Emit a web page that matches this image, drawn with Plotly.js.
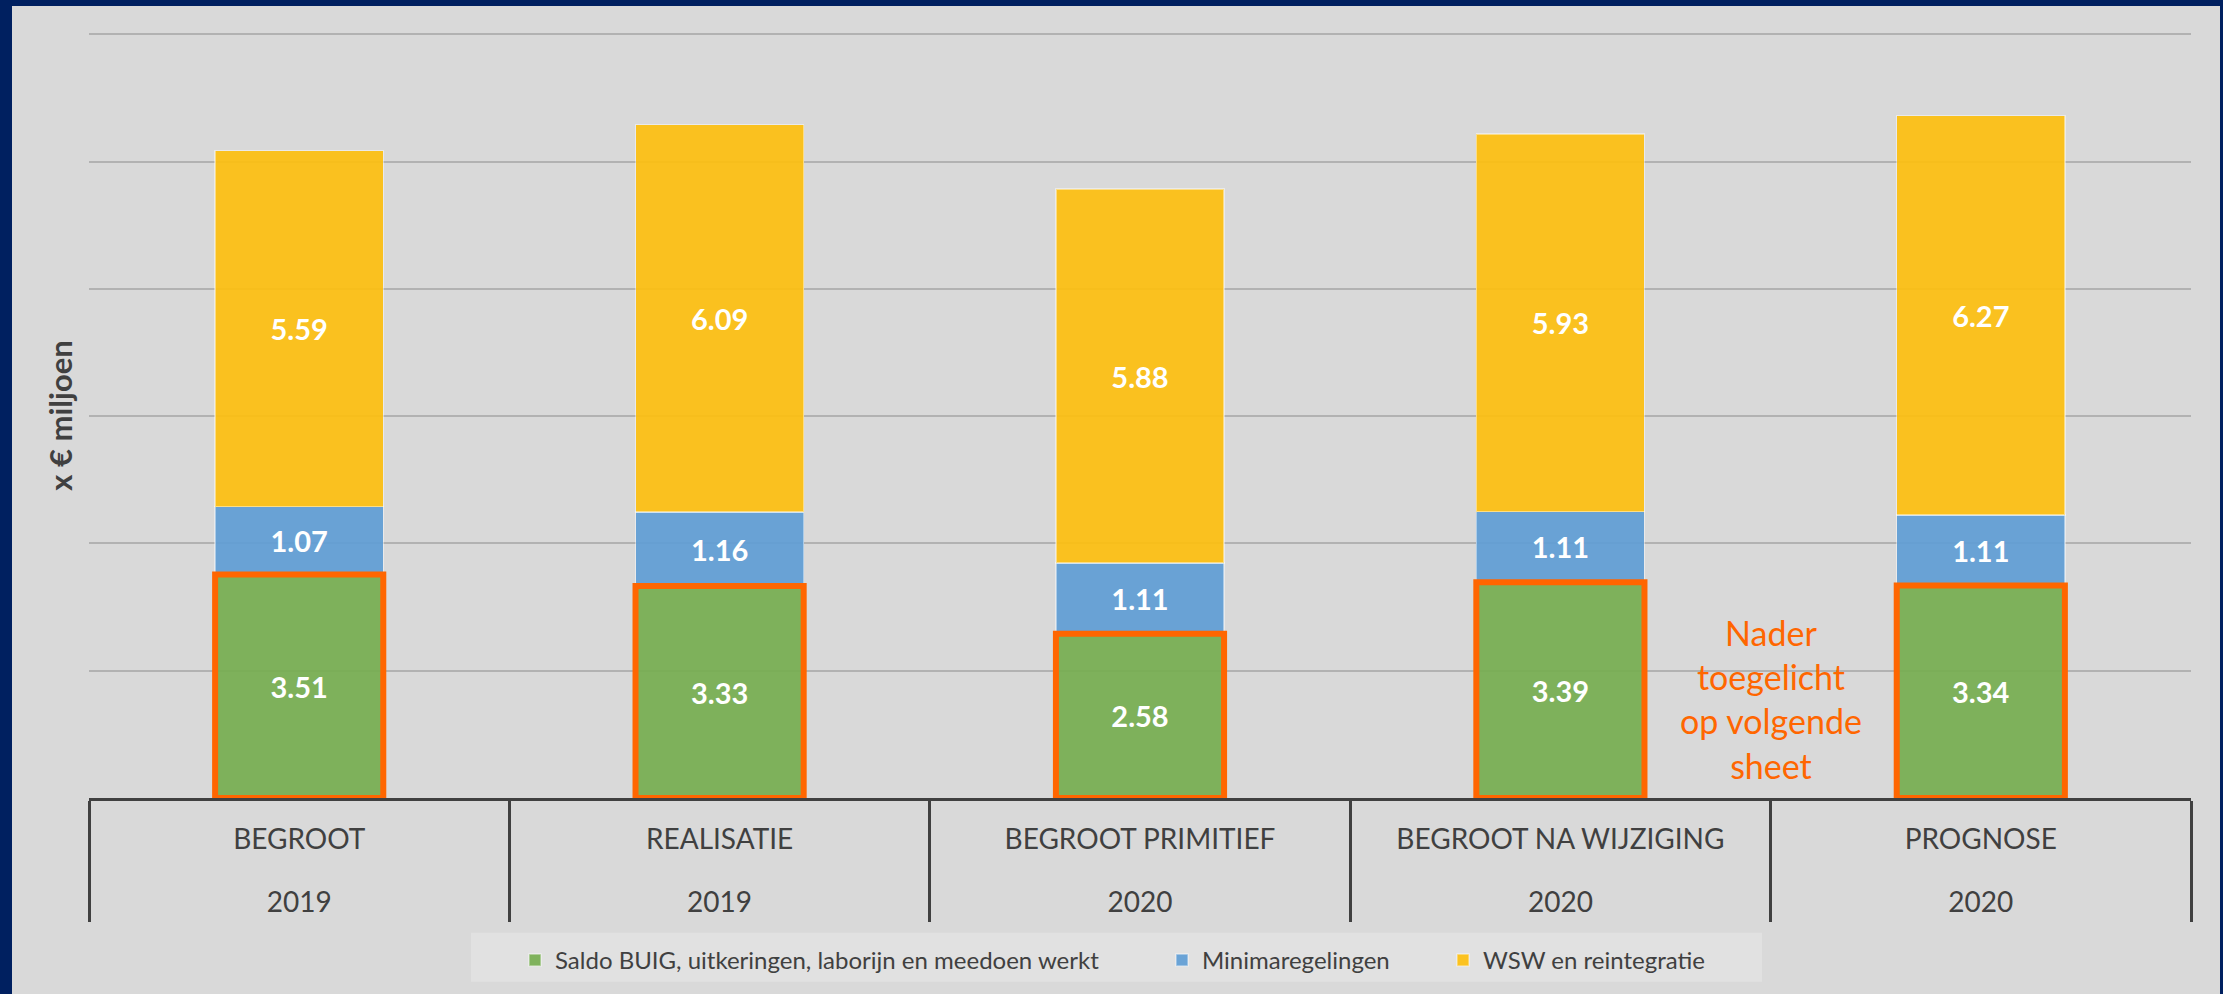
<!DOCTYPE html>
<html>
<head>
<meta charset="utf-8">
<script src="https://cdn.plot.ly/plotly-3.0.1.min.js"></script>
<style>html,body{margin:0;padding:0;background:#002060;}#chart{width:2223px;height:994px;}</style>
</head>
<body>
<div id="chart"></div>
<script>
// ---- data ----
var categories = ["BEGROOT", "REALISATIE", "BEGROOT PRIMITIEF", "BEGROOT NA WIJZIGING", "PROGNOSE"];
var years = ["2019", "2019", "2020", "2020", "2020"];
var saldoBuig = [3.51, 3.33, 2.58, 3.39, 3.34];
var minimaregelingen = [1.07, 1.16, 1.11, 1.11, 1.11];
var wswReintegratie = [5.59, 6.09, 5.88, 5.93, 6.27];
var seriesNames = ["Saldo BUIG, uitkeringen, laborijn en meedoen werkt", "Minimaregelingen", "WSW en reintegratie"];
var noteText = "Nader<br>toegelicht<br>op volgende<br>sheet";

// ---- layout geometry ----
var W = 2223, H = 994;
var M = {l: 89, r: 32, t: 33, b: 195};
var plotW = W - M.l - M.r, plotH = H - M.t - M.b;
function px(x) { return (x - M.l) / plotW; }
function py(y) { return (H - M.b - y) / plotH; }

var FONT = 'Lato, "Open Sans", sans-serif';
var TXT = '#404040';
var legendIds = ['legend', 'legend2', 'legend3'];
var legendLeft = [515, 1162, 1443];

function barTrace(k, vals, color) {
  return {
    type: 'bar', name: seriesNames[k], x: categories, y: vals,
    legend: legendIds[k],
    marker: {color: color, line: {color: 'rgba(255,255,255,0.45)', width: 1.5}},
    texttemplate: '%{y:.2f}', textposition: 'inside', insidetextanchor: 'middle',
    textangle: 0, constraintext: 'none',
    textfont: {family: FONT, size: 29, color: '#ffffff', weight: 'bold'},
    hoverinfo: 'x+y+name'
  };
}

var data = [
  barTrace(0, saldoBuig, 'rgba(118,174,80,0.92)'),
  barTrace(1, minimaregelingen, 'rgba(96,157,213,0.92)'),
  barTrace(2, wswReintegratie, 'rgba(253,191,15,0.92)'),
  // carrier for the second row of category labels (years); draws nothing
  {type: 'scatter', xaxis: 'x2', yaxis: 'y', mode: 'markers',
   x: years.map(function (y, k) { return k; }), y: years.map(function () { return null; }),
   showlegend: false, hoverinfo: 'skip'}
];

var shapes = [
  // grey panel inside navy frame
  {type: 'rect', xref: 'paper', yref: 'paper', layer: 'below',
   x0: px(12), x1: px(2220), y0: py(1000), y1: py(6),
   fillcolor: '#d9d9d9', line: {width: 0}},
  // legend box
  {type: 'rect', xref: 'paper', yref: 'paper', layer: 'below',
   x0: px(471), x1: px(1762), y0: py(983), y1: py(934),
   fillcolor: '#e1e1e1', line: {width: 0}}
];
// orange highlight boxes around the green segments
for (var i = 0; i < categories.length; i++) {
  shapes.push({type: 'rect', xref: 'x', yref: 'y', layer: 'above',
    x0: i - 0.2, x1: i + 0.2, y0: 0, y1: saldoBuig[i],
    line: {color: '#ff6600', width: 6}, fillcolor: 'rgba(0,0,0,0)'});
}

function legendCfg(k) {
  return {
    orientation: 'h', xanchor: 'left', yanchor: 'top',
    x: px(legendLeft[k]), y: py(938),
    bgcolor: 'rgba(0,0,0,0)',
    font: {family: FONT, size: 24, color: TXT},
    itemclick: false, itemdoubleclick: false
  };
}

var layout = {
  width: W, height: H,
  margin: M,
  paper_bgcolor: '#002060',
  plot_bgcolor: 'rgba(0,0,0,0)',
  barmode: 'stack',
  bargap: 0.6,
  showlegend: true,
  font: {family: FONT, color: TXT},
  xaxis: {
    type: 'category', categoryorder: 'array', categoryarray: categories,
    range: [-0.5, categories.length - 0.5],
    showgrid: false, zeroline: false,
    showline: true, linecolor: TXT, linewidth: 3,
    ticks: 'outside', tickson: 'boundaries', ticklen: 121, tickwidth: 3, tickcolor: TXT,
    ticklabelstandoff: 14,
    tickfont: {family: FONT, size: 28, color: TXT},
    fixedrange: true
  },
  xaxis2: {
    type: 'linear', overlaying: 'x', anchor: 'y', side: 'bottom',
    range: [-0.5, categories.length - 0.5],
    tickvals: categories.map(function (c, k) { return k; }),
    ticktext: years,
    showgrid: false, zeroline: false, showline: false, ticks: '',
    ticklabelstandoff: 85,
    tickfont: {family: FONT, size: 28, color: TXT},
    fixedrange: true
  },
  yaxis: {
    range: [0, 12.02], dtick: 2, showticklabels: false,
    showgrid: true, gridcolor: '#b2b2b2', gridwidth: 2,
    zeroline: false, showline: false, ticks: '',
    title: {text: 'x € miljoen', standoff: 6,
            font: {family: FONT, size: 31, color: TXT, weight: 'bold'}},
    fixedrange: true
  },
  legend: legendCfg(0),
  legend2: legendCfg(1),
  legend3: legendCfg(2),
  shapes: shapes,
  annotations: [{
    xref: 'x', yref: 'y', x: 3.5, y: 1.55, text: noteText, showarrow: false,
    align: 'center', font: {family: FONT, size: 34, color: '#ff6600'}
  }]
};

Plotly.newPlot('chart', data, layout, {displayModeBar: false});
</script>
</body>
</html>
